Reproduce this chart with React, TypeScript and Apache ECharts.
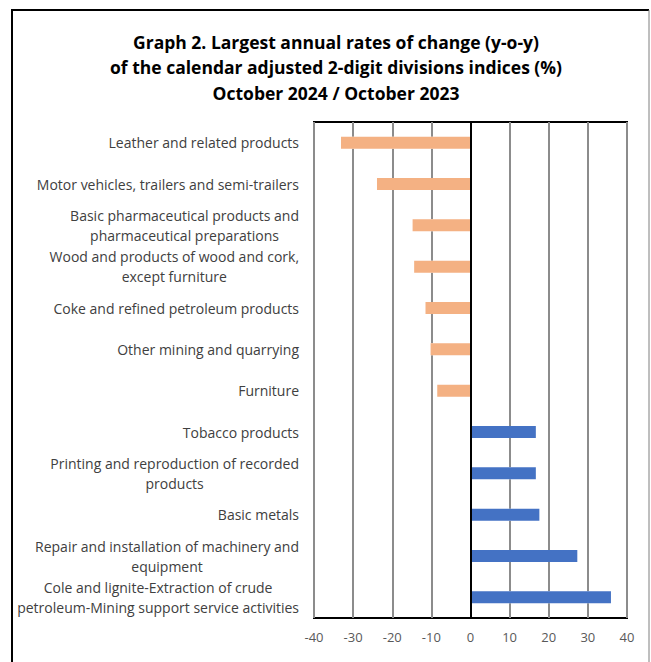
import React, { useEffect, useRef } from "react";
import * as echarts from "echarts";

const titleLines = [
  "Graph 2. Largest annual rates of change (y-o-y)",
  "of the calendar adjusted 2-digit divisions indices (%)",
  "October 2024 / October 2023",
];

const categories = [
  "Leather and related products",
  "Motor vehicles, trailers and semi-trailers",
  "Basic pharmaceutical products and\npharmaceutical preparations",
  "Wood and products of wood and cork,\nexcept furniture",
  "Coke and refined petroleum products",
  "Other mining and quarrying",
  "Furniture",
  "Tobacco products",
  "Printing and reproduction of recorded\nproducts",
  "Basic metals",
  "Repair and installation of machinery and\nequipment",
  "Cole and lignite-Extraction of crude\npetroleum-Mining support service activities",
];

const values = [-33.1, -23.9, -14.8, -14.4, -11.5, -10.2, -8.5, 16.7, 16.7, 17.6, 27.3, 35.9];

const xMin = -40;
const xMax = 40;
const xInterval = 10;

const NEG_COLOR = "#F4B183";
const POS_COLOR = "#4472C4";
const FONT = "Open Sans";

export default function App() {
  const ref = useRef<HTMLDivElement>(null);

  useEffect(() => {
    if (!ref.current) return;
    const chart = echarts.init(ref.current, undefined, { renderer: "svg" });
    chart.setOption({
      animation: false,
      backgroundColor: "#ffffff",
      title: {
        text: titleLines.join("\n"),
        left: 331,
        top: 24,
        textAlign: "center",
        textStyle: {
          fontFamily: FONT,
          fontWeight: "bold",
          fontSize: 17.5,
          lineHeight: 25.5,
          color: "#000000",
        },
      },
      graphic: [
        { type: "line", shape: { x1: 11, y1: 10, x2: 649, y2: 10 }, style: { stroke: "#000", lineWidth: 2 } },
        { type: "line", shape: { x1: 12, y1: 10, x2: 12, y2: 662 }, style: { stroke: "#000", lineWidth: 2 } },
        { type: "line", shape: { x1: 649, y1: 10, x2: 649, y2: 662 }, style: { stroke: "#7f7f7f", lineWidth: 1 } },
      ],
      grid: {
        left: 314,
        right: 24,
        top: 122,
        bottom: 44,
        show: true,
        borderColor: "#000000",
        borderWidth: 2,
        backgroundColor: "#ffffff",
      },
      xAxis: {
        type: "value",
        min: xMin,
        max: xMax,
        interval: xInterval,
        axisLine: { show: false },
        axisTick: { show: false },
        splitLine: { show: true, lineStyle: { color: "#8c8c8c", width: 2 } },
        axisLabel: {
          color: "#595959",
          fontFamily: FONT,
          fontSize: 13,
          margin: 12,
        },
      },
      yAxis: {
        type: "category",
        inverse: true,
        data: categories,
        axisLine: { show: false },
        axisTick: { show: false },
        splitLine: { show: false },
        axisLabel: {
          margin: 15,
          align: "right",
          formatter: (v: string) =>
            v
              .split("\n")
              .map((l) => `{c|${l}}`)
              .join("\n"),
          rich: {
            c: {
              align: "center",
              fontFamily: FONT,
              fontSize: 14,
              lineHeight: 20,
              color: "#404040",
            },
          },
        },
      },
      series: [
        {
          name: "halo",
          type: "bar",
          barWidth: 12,
          barGap: "-100%",
          silent: true,
          data: values,
          itemStyle: { color: "#ffffff", borderColor: "#ffffff", borderWidth: 6 },
        },
        {
          name: "value",
          type: "bar",
          barWidth: 12,
          barGap: "-100%",
          data: values.map((v) => ({
            value: v,
            itemStyle: { color: v < 0 ? NEG_COLOR : POS_COLOR },
          })),
          markLine: {
            silent: true,
            symbol: ["none", "none"],
            label: { show: false },
            z: 5,
            lineStyle: { color: "#000000", width: 2, type: "solid" },
            data: [{ xAxis: 0 }],
          },
        },
      ],
    });
    return () => chart.dispose();
  }, []);

  return (
    <div
      ref={ref}
      style={{ position: "absolute", left: 0, top: 0, width: 651, height: 662 }}
    />
  );
}
